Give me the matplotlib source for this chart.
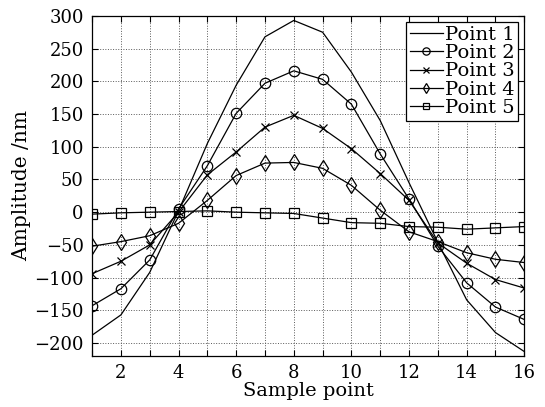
import matplotlib
matplotlib.use("Agg")
import matplotlib.pyplot as plt
from matplotlib.ticker import MultipleLocator

x = list(range(1, 17))
point1 = [-188, -157, -92, 2, 105, 194, 268, 293, 275, 214, 140, 45, -46, -134, -184, -213]
point2 = [-143, -117, -73, 5, 71, 151, 197, 216, 203, 165, 89, 20, -52, -108, -145, -164]
point3 = [-94, -75, -50, 0, 57, 92, 130, 148, 128, 97, 59, 18, -47, -78, -103, -116]
point4 = [-52, -45, -36, -17, 18, 56, 75, 76, 67, 41, 3, -30, -45, -62, -72, -77]
point5 = [-3, -1, 0, 1, 2, 0, -1, -2, -9, -16, -17, -22, -23, -26, -24, -22]
labels = ["Point 1", "Point 2", "Point 3", "Point 4", "Point 5"]

plt.rcParams['font.family'] = ['DejaVu Serif']
plt.rcParams['axes.unicode_minus'] = True

fig = plt.figure(figsize=(5.45, 4.07), dpi=100)
ax = fig.add_axes([0.169, 0.125, 0.793, 0.836])

lw = 0.9
ax.plot(x, point1, color='black', lw=lw, label=labels[0])
ax.plot(x, point2, color='black', lw=lw, marker='o', ms=7.5, mfc='none', mew=0.9, label=labels[1])
ax.plot(x, point3, color='black', lw=lw, marker='x', ms=5.5, mew=0.9, label=labels[2])
ax.plot(x, point4, color='black', lw=lw, marker='d', ms=8, mfc='none', mew=0.9, label=labels[3])
ax.plot(x, point5, color='black', lw=lw, marker='s', ms=6.5, mfc='none', mew=0.9, label=labels[4])

ax.set_xlim(1, 16)
ax.set_ylim(-220, 300)
ax.xaxis.set_major_locator(MultipleLocator(2))
ax.xaxis.set_minor_locator(MultipleLocator(1))
ax.yaxis.set_major_locator(MultipleLocator(50))
ax.tick_params(which='both', direction='in', top=True, right=True, labelsize=13, width=0.8)
ax.tick_params(axis='y', pad=6)
ax.tick_params(axis='x', pad=6)
ax.tick_params(which='major', length=4)
ax.tick_params(which='minor', length=4)
ax.grid(True, which='both', axis='x', linestyle=':', color='0.35', lw=0.7)
ax.grid(True, which='major', axis='y', linestyle=':', color='0.35', lw=0.7)
for s in ax.spines.values():
    s.set_linewidth(0.9)

ax.set_xlabel("Sample point", fontsize=14, labelpad=0)
ax.set_ylabel("Amplitude /nm", fontsize=14.5, labelpad=2)

leg = ax.legend(loc='upper right', fontsize=14, frameon=True, fancybox=False,
                edgecolor='black', framealpha=1, borderaxespad=0.3,
                handlelength=1.7, handletextpad=0.1, labelspacing=0.02,
                borderpad=0.2, markerscale=0.7)
leg.get_frame().set_linewidth(0.9)

fig.savefig("out.png", dpi=100)
